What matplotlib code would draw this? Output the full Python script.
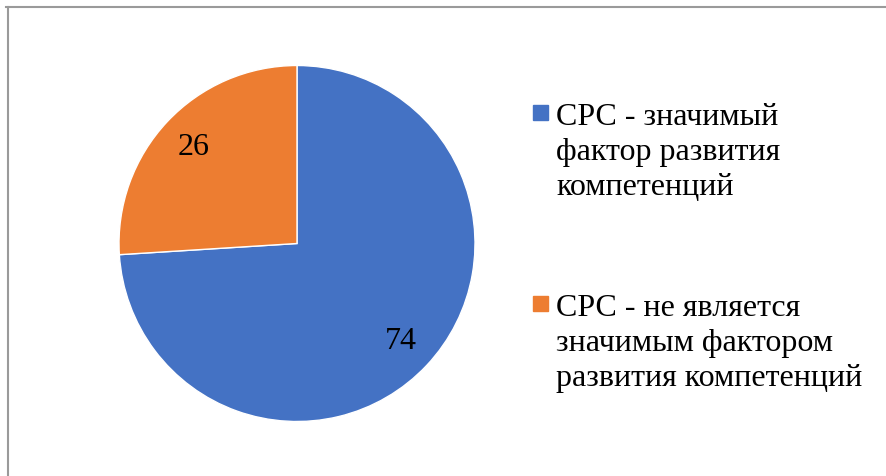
import numpy as np
import matplotlib.pyplot as plt
from matplotlib.patches import Rectangle
from matplotlib.lines import Line2D

labels = ["СРС - значимый\nфактор развития\nкомпетенций",
          "СРС - не является\nзначимым фактором\nразвития компетенций"]
values = [74, 26]
colors = ["#4472C4", "#ED7D31"]

fig = plt.figure(figsize=(8.86, 4.77), dpi=100)

# thin grey frame of the chart area (top and left only visible)
fig.add_artist(Line2D([6 / 886, 1], [1 - 8 / 477, 1 - 8 / 477], color="#9a9a9a", lw=1.5))
fig.add_artist(Line2D([8 / 886, 8 / 886], [0, 1 - 8 / 477], color="#9a9a9a", lw=1.5))

ax = fig.add_axes([119 / 886, 54.5 / 477, 356 / 886, 356 / 477])
wedges, texts = ax.pie(values, colors=colors, startangle=90, counterclock=False,
                       wedgeprops=dict(edgecolor="white", linewidth=1), radius=1)
ax.set_xlim(-1, 1)
ax.set_ylim(-1, 1)
ax.set_aspect("equal")

# value labels inside the wedges
tot = sum(values)
start = 90
for v in values:
    mid = np.deg2rad(start - v / tot * 360 / 2)
    r = 0.80
    ax.text(r * np.cos(mid), r * np.sin(mid), str(v), ha="center", va="center",
            fontsize=23, family="Liberation Serif")
    start -= v / tot * 360

# legend
leg_y = [114, 305]
for lab, col, y in zip(labels, colors, leg_y):
    fig.add_artist(Rectangle((533 / 886, 1 - (y + 7) / 477), 15 / 886, 15 / 477,
                             color=col, transform=fig.transFigure))
    fig.text(556 / 886, 1 - (y - 11) / 477, lab, ha="left", va="top", fontsize=23,
             family="Liberation Serif", linespacing=1.27)

fig.savefig("out.png", dpi=100)
